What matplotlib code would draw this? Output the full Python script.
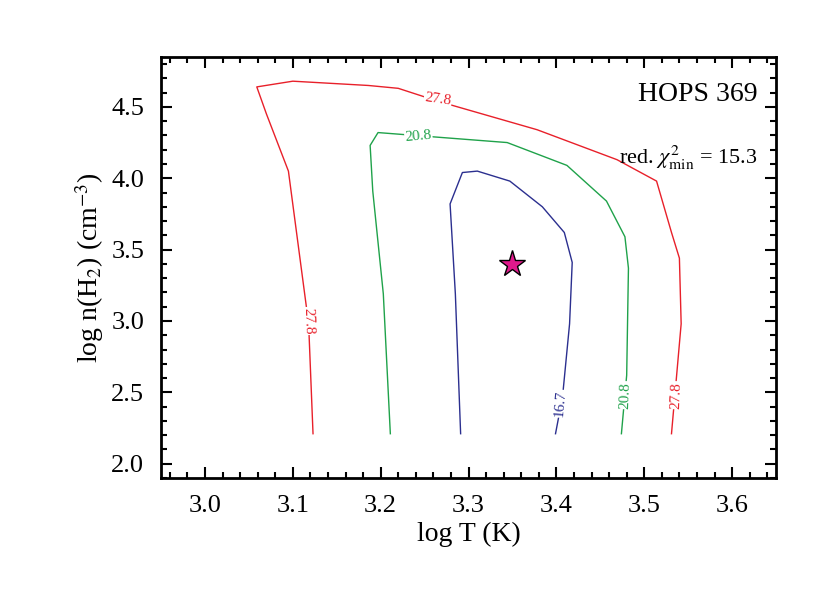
import matplotlib
matplotlib.use("Agg")
import matplotlib.pyplot as plt
from matplotlib.ticker import MultipleLocator

plt.rcParams['font.family'] = ['Liberation Serif', 'DejaVu Serif']
plt.rcParams['mathtext.fontset'] = 'stix'

red_x = [3.123, 3.118, 3.095, 3.07, 3.059, 3.10, 3.186, 3.22, 3.265, 3.378, 3.469, 3.514, 3.531, 3.54, 3.542, 3.531]
red_y = [2.21, 2.98, 4.05, 4.45, 4.64, 4.68, 4.65, 4.63, 4.54, 4.34, 4.13, 3.98, 3.62, 3.44, 2.98, 2.21]
green_x = [3.211, 3.203, 3.191, 3.188, 3.197, 3.344, 3.412, 3.457, 3.478, 3.482, 3.48, 3.474]
green_y = [2.21, 3.19, 3.91, 4.23, 4.32, 4.25, 4.09, 3.84, 3.59, 3.37, 2.62, 2.21]
blue_x = [3.291, 3.285, 3.279, 3.293, 3.31, 3.347, 3.384, 3.409, 3.418, 3.415, 3.407, 3.399]
blue_y = [2.21, 3.19, 3.82, 4.04, 4.05, 3.98, 3.80, 3.62, 3.41, 2.98, 2.47, 2.21]
best_T, best_n = 3.35, 3.40
levels = ["16.7", "20.8", "27.8"]

fig = plt.figure(figsize=(8.3, 5.93), dpi=100)
ax = fig.add_axes([0.194, 0.194, 0.741, 0.71])
ax.plot(red_x, red_y, color='#e8202a', lw=1)
ax.plot(green_x, green_y, color='#1fa24a', lw=1)
ax.plot(blue_x, blue_y, color='#2b2f8f', lw=1)

box = dict(facecolor='white', edgecolor='none', pad=0.5)
lab = [(3.118, 3.0, levels[2], '#e8202a', -88),
       (3.265, 4.55, levels[2], '#e8202a', -8),
       (3.536, 2.48, levels[2], '#e8202a', 88),
       (3.243, 4.29, levels[1], '#1fa24a', 5),
       (3.479, 2.48, levels[1], '#1fa24a', 88),
       (3.405, 2.42, levels[0], '#2b2f8f', 85)]
for x, y, t, c, r in lab:
    ax.text(x, y, t, color=c, fontsize=11, rotation=r, ha='center', va='center', bbox=box)

ax.plot(best_T, best_n, marker='*', ms=20, color='#e0198c', mec='black', mew=1)

ax.set_xlim(2.95, 3.65)
ax.set_ylim(1.9, 4.85)
ax.xaxis.set_major_locator(MultipleLocator(0.1))
ax.xaxis.set_minor_locator(MultipleLocator(0.02))
ax.yaxis.set_major_locator(MultipleLocator(0.5))
ax.yaxis.set_minor_locator(MultipleLocator(0.1))
ax.tick_params(which='both', direction='in', top=True, right=True, labelsize=19, width=1.5)
ax.tick_params(which='major', length=8, pad=12)
ax.tick_params(which='minor', length=4)
for s in ax.spines.values():
    s.set_linewidth(2)
ax.set_xlabel('log T (K)', fontsize=20)
ax.set_ylabel(r'log n(H$_2$) (cm$^{-3}$)', fontsize=20)
ax.text(0.97, 0.94, 'HOPS 369', transform=ax.transAxes, ha='right', va='top', fontsize=20)
ax.text(0.97, 0.76, r'red. $\chi^2_{\rm min}$ = 15.3', transform=ax.transAxes, ha='right', va='center', fontsize=16)
fig.savefig('out.png', dpi=100)
